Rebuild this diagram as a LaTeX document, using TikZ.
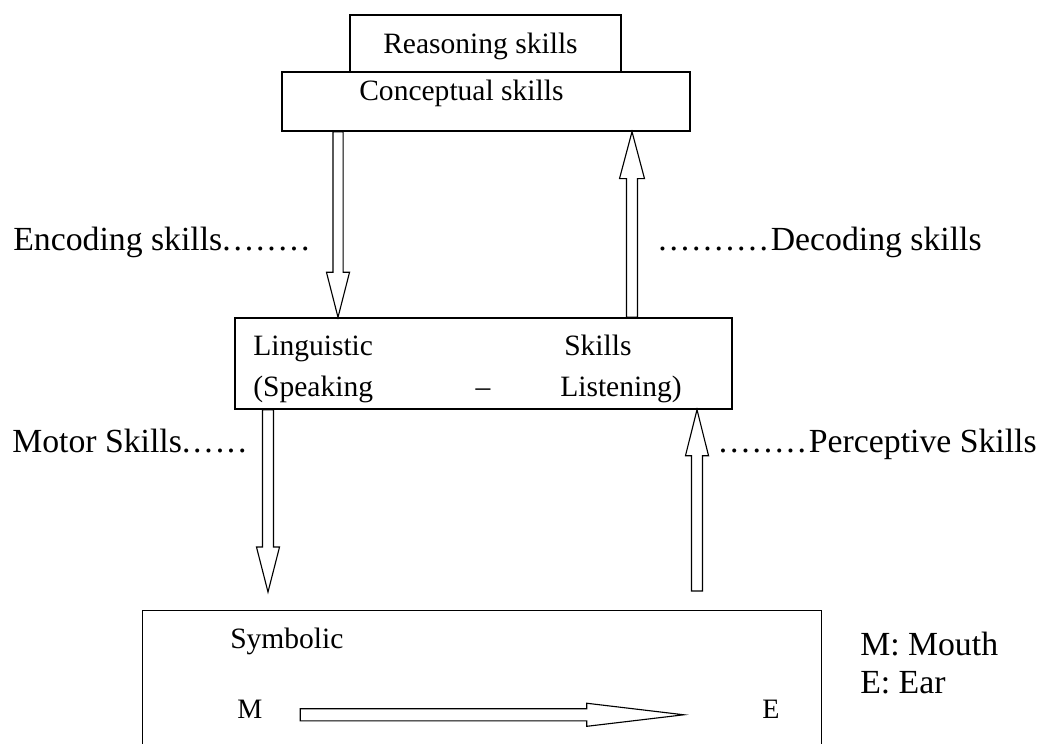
\documentclass[tikz,border=0pt]{standalone}
\usepackage{fontspec}
\setmainfont{Liberation Serif}
\usetikzlibrary{calc}

\tikzset{
  boxnode/.style={draw, line width=1pt, fill=white, inner sep=0pt},
  openbox/.style={inner sep=0pt},
  boxtext/.style={inner sep=0pt, anchor=base west, font=\fontsize{21}{25}\selectfont},
  sidetext/.style={inner sep=0pt, font=\fontsize{24}{29}\selectfont},
  lettertext/.style={inner sep=0pt, anchor=base west, font=\fontsize{20}{24}\selectfont},
  blockarrow/.style={draw, line width=0.8pt, fill=white, line join=miter},
}

\newcommand{\leaderdots}[1]{\foreach \i in {1,...,#1}{.\kern2pt}}
% from, tip, head length, shaft half width, head half width
\newcommand{\hollowarrow}[5]{%
  \coordinate (hb) at ($(#2)!#3!(#1)$);
  \draw[blockarrow] ($(#1)!#4!90:(#2)$) -- ($(hb)!#4!90:(#2)$) -- ($(hb)!#5!90:(#2)$) -- (#2)
    -- ($(hb)!#5!-90:(#2)$) -- ($(hb)!#4!-90:(#2)$) -- ($(#1)!#4!-90:(#2)$) -- cycle;
}

\begin{document}
\begin{tikzpicture}[x=0.025cm, y=-0.025cm]
  \useasboundingbox (0,0) rectangle (1043,743);
  \clip (0,0) rectangle (1043,743);

  % boxes
  \node[boxnode, minimum width=6.775cm, minimum height=1.425cm] (reas) at (485.5,43.5) {};
  \node[boxnode, minimum width=10.2cm, minimum height=1.475cm] (conc) at (486,101.5) {};
  \node[boxnode, minimum width=12.425cm, minimum height=2.275cm] (ling) at (483.5,363.5) {};
  % symbolic box runs off the bottom of the page
  \node[openbox, minimum width=16.95cm, minimum height=5cm] (symb) at (482,711) {};
  \draw[line width=1pt] (symb.south west) |- (symb.north east) -- (symb.south east);

  % box texts
  \node[boxtext] (reastxt) at (383,53) {Reasoning skills};
  \node[boxtext] (conctxt) at (359,100) {Conceptual skills};
  \node[boxtext] (linga) at (253,355) {Linguistic};
  \node[boxtext] (lingb) at (564,355) {Skills};
  \node[boxtext] (lingc) at (253,396) {(Speaking};
  \node[boxtext, anchor=base] (lingd) at (483,396) {--};
  \node[boxtext] (linge) at (560,396) {Listening)};
  \node[boxtext] (symtxt) at (230,648) {Symbolic};
  \node[lettertext] (mlet) at (237,718) {M};
  \node[lettertext] (elet) at (762,718) {E};

  % side labels
  \node[sidetext, anchor=base west] (enctxt) at (13,250) {Encoding skills\leaderdots{8}};
  \node[sidetext, anchor=base east] (dectxt) at (982,250) {\leaderdots{10}Decoding skills};
  \node[sidetext, anchor=base west] (mottxt) at (12,452) {Motor Skills\leaderdots{6}};
  \node[sidetext, anchor=base east] (pertxt) at (1037,452) {\leaderdots{8}Perceptive Skills};
  \node[sidetext, anchor=base west] (keym) at (860,655) {M: Mouth};
  \node[sidetext, anchor=base west] (keye) at (860,693) {E: Ear};

  % arrows
  \coordinate (encx) at (338,0);
  \coordinate (decx) at (632,0);
  \coordinate (motx) at (268,0);
  \coordinate (perx) at (697,0);
  \coordinate (mottip) at (268,592);
  \coordinate (pertail) at (697,591);
  \coordinate (mestart) at ($(mlet.mid)!35.9pt!(elet.mid)$);
  \coordinate (meend) at ($(elet.mid)!61.9pt!(mlet.mid)$);

  \hollowarrow{conc.south -| encx}{ling.north -| encx}{32pt}{3.6pt}{8.2pt}
  \hollowarrow{ling.north -| decx}{conc.south -| decx}{33.4pt}{3.9pt}{8.9pt}
  \hollowarrow{ling.south -| motx}{mottip}{32pt}{3.9pt}{8.2pt}
  \hollowarrow{pertail}{ling.south -| perx}{32.7pt}{3.9pt}{8.2pt}
  \hollowarrow{mestart}{meend}{69pt}{4.3pt}{8.2pt}
\end{tikzpicture}
\end{document}
